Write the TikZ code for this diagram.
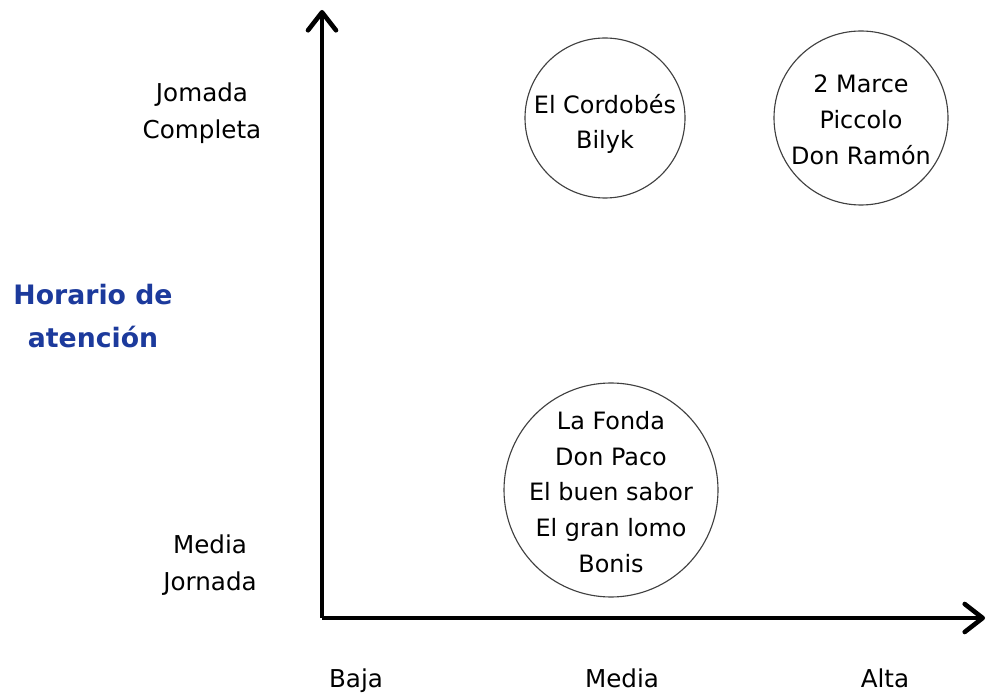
\documentclass[tikz,border=0pt]{standalone}
\usepackage{fontspec}
\setmainfont{DejaVu Sans}
\usetikzlibrary{arrows.meta}
\usetikzlibrary{positioning}
\definecolor{azulhorario}{RGB}{28,58,156}

\begin{document}
\begin{tikzpicture}[
  eje/.style={line width=0.115cm,-{Straight Barb[length=4.5mm,width=7mm,round]}},
  grupo/.style={circle,draw=black!75,line width=0.8pt,inner sep=0pt},
  nombres/.style={align=center,font=\fontsize{17}{25.5}\selectfont},
  etiqueta/.style={align=center,font=\fontsize{17.5}{26.5}\selectfont}
]
\useasboundingbox[fill=white] (0,0) rectangle (24.65,17.4);
\coordinate (O) at (8.05,1.95);
\coordinate (Ytop) at (8.05,17.15);
\coordinate (Xend) at (24.625,1.95);
\draw[eje] (O) -- (Ytop);
\draw[eje] (O) -- (Xend);

\node[etiqueta] (completa) at (5.05,14.575) {Jomada\\Completa};
\node[etiqueta] (media) at (5.25,3.275) {Media\\Jornada};
\node[align=center,text=azulhorario,font=\fontsize{19}{31}\selectfont\bfseries] (horario) at (2.325,9.5) {Horario de\\atención};

\node[etiqueta,anchor=base] (baja) at (8.9,0.225) {Baja};
\node[etiqueta,anchor=base] (mediax) at (15.55,0.225) {Media};
\node[etiqueta,anchor=base] (alta) at (22.125,0.225) {Alta};

% grupos de locales
\node[grupo,minimum size=4cm] (cordobes) at (15.125,14.45) {};
\node[nombres] (cordobestxt) at (15.125,14.3) {El Cordobés\\Bilyk};
\node[grupo,minimum size=4.35cm] (marce) at (21.525,14.45) {};
\node[nombres] (marcetxt) at (21.525,14.4) {2 Marce\\Piccolo\\Don Ramón};
\node[grupo,minimum size=5.35cm] (fonda) at (15.275,5.15) {};
\node[nombres] (fondatxt) at (15.275,5.1) {La Fonda\\Don Paco\\El buen sabor\\El gran lomo\\Bonis};

\end{tikzpicture}
\end{document}
